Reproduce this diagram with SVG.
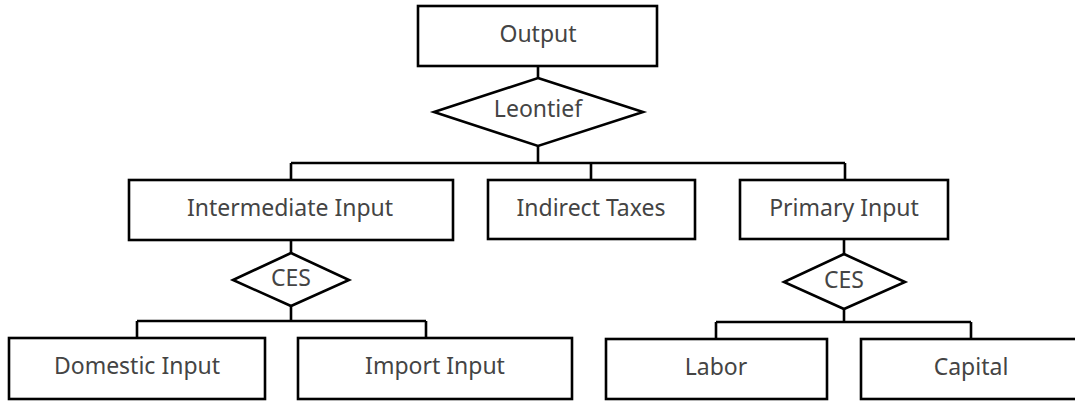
<svg xmlns="http://www.w3.org/2000/svg" width="1075" height="401" viewBox="0 0 1075 401">
<style>
.box{fill:#fff;stroke:#000;stroke-width:2.6}
.dia{fill:#fff;stroke:#000;stroke-width:2.6;stroke-linejoin:miter}
.lbl{font-family:"Noto Sans","Open Sans",sans-serif;font-size:23px;fill:#444;text-anchor:middle;dominant-baseline:central}
.con{fill:none;stroke:#000;stroke-width:2.6}
</style>
<rect width="1075" height="401" fill="#fff"/>
<g id="connectors">
<path class="con" d="M538 66V78M538 146V163M291 163H845M291 163V180M591 163V180M845 163V180"/>
<path class="con" d="M291 240V253M291 306V321M137 321H426M137 321V338M426 321V338"/>
<path class="con" d="M844 239V254M844 309V322M716 322H971M716 322V339M971 322V339"/>
</g>
<g id="output"><rect class="box" x="418" y="6" width="239" height="60"/><text class="lbl" x="538" y="33">Output</text></g>
<g id="leontief"><polygon class="dia" points="538,78 643,112 538,146 434,112"/><text class="lbl" x="538" y="108">Leontief</text></g>
<g id="intermediate"><rect class="box" x="129" y="180" width="324" height="60"/><text class="lbl" x="290" y="207">Intermediate Input</text></g>
<g id="indirect"><rect class="box" x="488" y="180" width="207" height="59"/><text class="lbl" x="591" y="207">Indirect Taxes</text></g>
<g id="primary"><rect class="box" x="740" y="180" width="208" height="59"/><text class="lbl" x="844" y="207">Primary Input</text></g>
<g id="ces1"><polygon class="dia" points="291,253 349,280 291,306 233,280"/><text class="lbl" x="291" y="277">CES</text></g>
<g id="ces2"><polygon class="dia" points="844,254 905,282 844,309 784,282"/><text class="lbl" x="844" y="279">CES</text></g>
<g id="domestic"><rect class="box" x="9" y="338" width="256" height="61"/><text class="lbl" x="137" y="365">Domestic Input</text></g>
<g id="import"><rect class="box" x="298" y="338" width="274" height="61"/><text class="lbl" x="435" y="365">Import Input</text></g>
<g id="labor"><rect class="box" x="606" y="339" width="221" height="60"/><text class="lbl" x="716" y="366">Labor</text></g>
<g id="capital"><rect class="box" x="861" y="339" width="220" height="60"/><text class="lbl" x="971" y="366">Capital</text></g>
</svg>
